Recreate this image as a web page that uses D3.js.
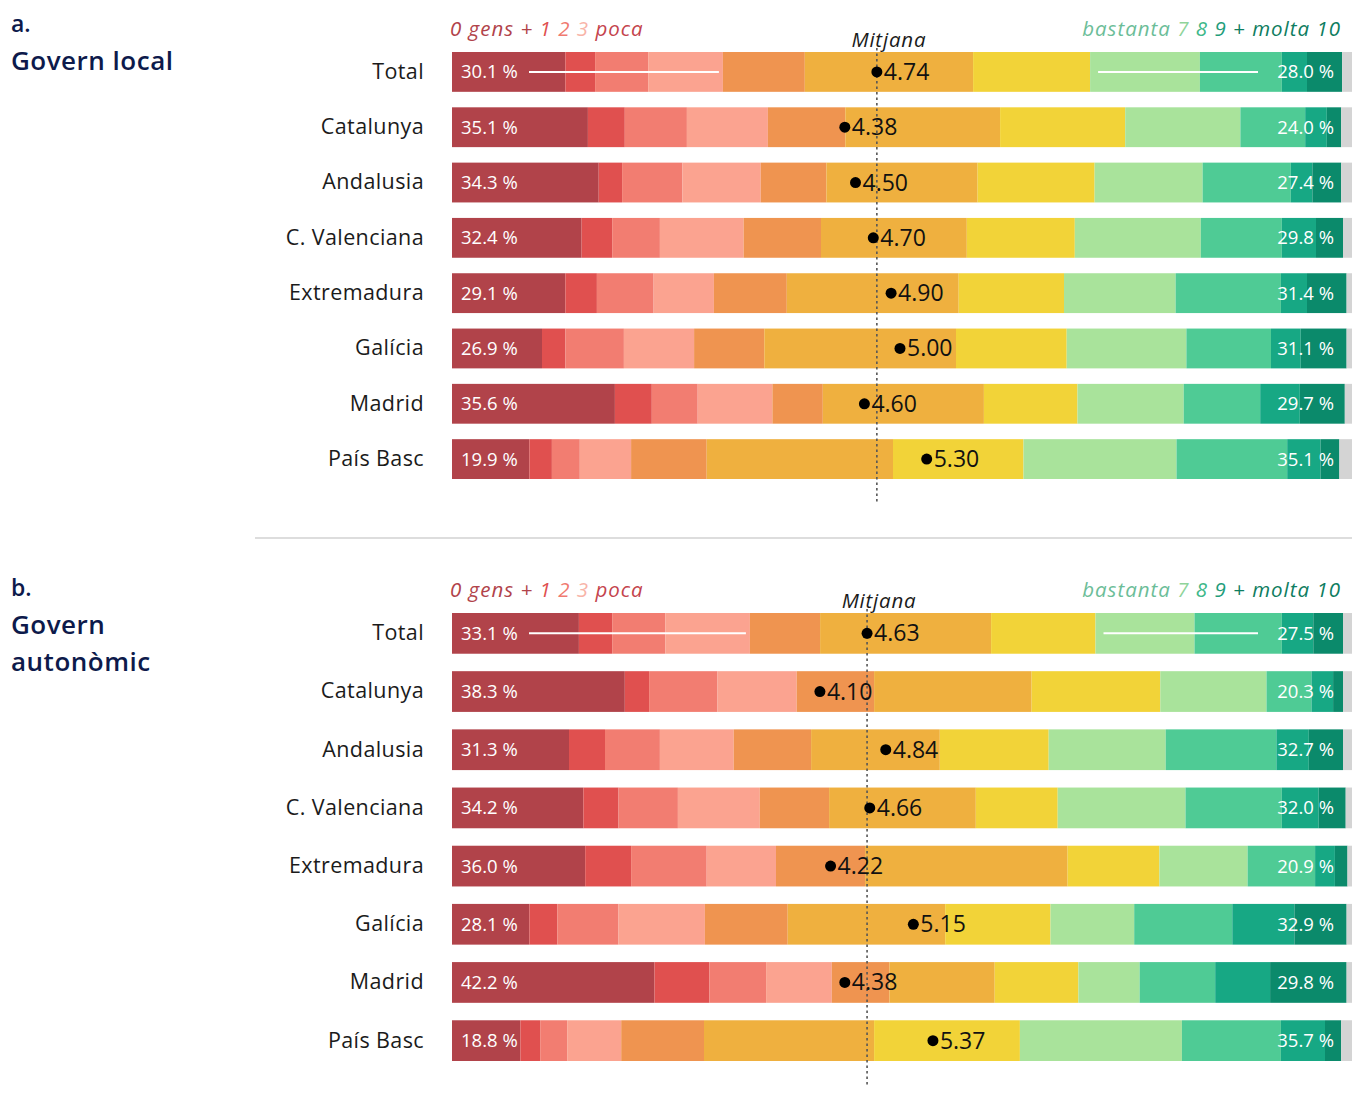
<!DOCTYPE html>
<html>
<head>
<meta charset="utf-8">
<script src="https://cdn.jsdelivr.net/npm/d3@7"></script>
<style>
  html, body { margin: 0; padding: 0; background: #fff; }
  svg { display: block; }
  text { font-family: "Open Sans", "Noto Sans", sans-serif; }
</style>
</head>
<body>
<svg id="chart" width="1352" height="1097"></svg>
<script>
const categories = ["Total", "Catalunya", "Andalusia", "C. Valenciana", "Extremadura", "Galícia", "Madrid", "País Basc"];
const scoreKeys = ["0", "1", "2", "3", "4", "5", "6", "7", "8", "9", "10", "NS/NC"];
const scoreColors = ["#b1434a", "#e0504f", "#f27d71", "#fba390", "#ef9450", "#efb03f", "#f2d338", "#a9e39b", "#4fcb95", "#17a884", "#0b8a6b", "#d4d4d4"];

// a. Govern local
const localValues = [
  [12.6, 3.3, 5.9, 8.3, 9.1, 18.7, 13.0, 12.2, 9.1, 2.8, 3.9, 1.1],
  [15.1, 4.1, 6.9, 9.0, 8.6, 17.2, 13.9, 12.8, 7.2, 2.4, 1.6, 1.2],
  [16.3, 2.6, 6.7, 8.7, 7.3, 16.8, 13.0, 12.0, 9.8, 2.4, 3.2, 1.2],
  [14.4, 3.4, 5.3, 9.3, 8.6, 16.2, 12.0, 14.0, 9.0, 3.8, 3.0, 1.0],
  [12.6, 3.5, 6.3, 6.7, 8.1, 19.1, 11.7, 12.4, 11.7, 2.9, 4.4, 0.6],
  [10.0, 2.6, 6.5, 7.8, 7.8, 21.3, 12.3, 13.3, 9.4, 3.3, 5.1, 0.6],
  [18.1, 4.1, 5.1, 8.3, 5.6, 17.9, 10.4, 11.8, 8.5, 4.4, 5.0, 0.8],
  [8.6, 2.5, 3.1, 5.7, 8.4, 20.7, 14.5, 17.0, 12.3, 3.7, 2.1, 1.4]
];
const localMeans = [4.74, 4.38, 4.50, 4.70, 4.90, 5.00, 4.60, 5.30];
const localLowLabels = ["30.1 %", "35.1 %", "34.3 %", "32.4 %", "29.1 %", "26.9 %", "35.6 %", "19.9 %"];
const localHighLabels = ["28.0 %", "24.0 %", "27.4 %", "29.8 %", "31.4 %", "31.1 %", "29.7 %", "35.1 %"];

// b. Govern autonòmic
const autoValues = [
  [14.1, 3.7, 5.9, 9.4, 7.8, 19.0, 11.6, 11.0, 9.7, 3.5, 3.3, 1.0],
  [19.2, 2.7, 7.6, 8.8, 8.6, 17.5, 14.3, 11.8, 5.0, 2.4, 1.1, 1.0],
  [13.0, 4.0, 6.1, 8.2, 8.6, 14.3, 12.1, 13.0, 12.3, 3.6, 3.8, 1.0],
  [14.6, 3.9, 6.6, 9.1, 7.7, 16.3, 9.1, 14.2, 10.7, 4.1, 3.0, 0.7],
  [14.8, 5.1, 8.4, 7.7, 9.9, 22.5, 10.2, 9.8, 7.5, 2.2, 1.4, 0.5],
  [8.6, 3.1, 6.8, 9.6, 9.2, 17.5, 11.7, 9.3, 10.9, 6.9, 5.8, 0.6],
  [22.5, 6.1, 6.3, 7.3, 6.4, 11.7, 9.3, 6.8, 8.4, 6.1, 8.5, 0.6],
  [7.6, 2.2, 3.0, 6.0, 9.2, 18.9, 16.2, 18.0, 11.0, 4.9, 1.8, 1.2]
];
const autoMeans = [4.63, 4.10, 4.84, 4.66, 4.22, 5.15, 4.38, 5.37];
const autoLowLabels = ["33.1 %", "38.3 %", "31.3 %", "34.2 %", "36.0 %", "28.1 %", "42.2 %", "18.8 %"];
const autoHighLabels = ["27.5 %", "20.3 %", "32.7 %", "32.0 %", "20.9 %", "32.9 %", "29.8 %", "35.7 %"];

const panelLetters = ["a.", "b."];
const panelTitles = [["Govern local"], ["Govern", "autonòmic"]];
const lowHeader = [["0 gens + ", "#b1434a"], ["1 ", "#e0504f"], ["2 ", "#f07a70"], ["3 ", "#f8b4a8"], ["poca", "#c4434c"]];
const highHeader = [["bastanta ", "#6cbd98"], ["7 ", "#8fd49a"], ["8 ", "#3fb889"], ["9 ", "#1f9d7b"], ["+ molta 10", "#0e7d60"]];
const meanLabel = "Mitjana";

const svg = d3.select("#chart");
const x = d3.scaleLinear().domain([0, 100]).range([452, 1352]);
const xMean = d3.scaleLinear().domain([0, 10]).range([455, 1345]);
const navy = "#0d1a4b";

function drawPanel(cfg) {
  const g = svg.append("g");
  const y = d3.scaleBand().domain(categories).range(cfg.yRange).paddingInner(cfg.pad).paddingOuter(0);
  const bw = y.bandwidth();

  // panel titles
  g.append("text").attr("x", 11).attr("y", cfg.titleY).attr("fill", navy)
    .attr("font-size", 23).attr("font-weight", 600)
    .text(cfg.letter);
  cfg.title.forEach((t, i) => {
    g.append("text").attr("x", 11).attr("y", cfg.titleY + 38 + i * 37).attr("fill", navy)
      .attr("font-size", 26).attr("font-weight", 600).attr("letter-spacing", 0.5)
      .text(t);
  });

  // headers
  const lh = g.append("text").attr("x", x(0) - 2).attr("y", cfg.yRange[0] - 16)
    .attr("font-size", 20.5).attr("font-style", "italic").attr("letter-spacing", 1);
  lowHeader.forEach(([t, c]) => lh.append("tspan").attr("fill", c).text(t));
  const hh = g.append("text").attr("x", 1341).attr("y", cfg.yRange[0] - 16)
    .attr("font-size", 20.5).attr("font-style", "italic").attr("text-anchor", "end").attr("letter-spacing", 1);
  highHeader.forEach(([t, c]) => hh.append("tspan").attr("fill", c).text(t));

  // category labels
  const yAxis = d3.axisLeft(y).tickSize(0).tickPadding(0);
  const ax = g.append("g").attr("transform", `translate(424,0)`).call(yAxis);
  ax.select(".domain").remove();
  ax.selectAll("text").attr("font-size", 21.5).attr("fill", "#1b1b1b")
    .attr("font-family", "'Open Sans', sans-serif").attr("font-weight", 500).attr("letter-spacing", 0.4);

  // stacked bars
  const rows = cfg.values.map((vals, i) => {
    const o = { cat: categories[i] };
    scoreKeys.forEach((k, j) => o[k] = vals[j]);
    return o;
  });
  const stack = d3.stack().keys(scoreKeys)(rows);
  g.append("g").selectAll("g").data(stack).join("g")
    .attr("fill", (d, i) => scoreColors[i])
    .selectAll("rect").data(d => d).join("rect")
    .attr("x", d => x(d[0]))
    .attr("y", d => y(d.data.cat))
    .attr("width", d => Math.max(0, x(d[1]) - x(d[0])))
    .attr("height", bw);

  // low / high percentage labels
  g.append("g").selectAll("text").data(cfg.low).join("text")
    .attr("x", x(0) + 9).attr("y", (d, i) => y(categories[i]) + bw / 2 + 6.5)
    .attr("fill", "#fff").attr("font-size", 18.5).text(d => d);
  g.append("g").selectAll("text").data(cfg.high).join("text")
    .attr("x", 1334).attr("y", (d, i) => y(categories[i]) + bw / 2 + 6.5)
    .attr("text-anchor", "end").attr("fill", "#fff").attr("font-size", 18.5).text(d => d);

  // white range lines on the Total row
  const tv = cfg.values[0];
  const lowEnd = d3.sum(tv.slice(0, 4));
  const highStart = d3.sum(tv.slice(0, 7));
  const ty = y(categories[0]) + bw / 2;
  g.append("line").attr("x1", x(0) + 77).attr("x2", x(lowEnd) - 4).attr("y1", ty).attr("y2", ty)
    .attr("stroke", "#fff").attr("stroke-width", 2);
  g.append("line").attr("x1", x(highStart) + 8).attr("x2", 1258).attr("y1", ty).attr("y2", ty)
    .attr("stroke", "#fff").attr("stroke-width", 2);

  // mean dotted line
  const mx = xMean(cfg.means[0]);
  g.append("line").attr("x1", mx).attr("x2", mx)
    .attr("y1", cfg.yRange[0] - 4).attr("y2", cfg.yRange[1] + 24)
    .attr("stroke", "#555").attr("stroke-width", 1.6).attr("stroke-dasharray", "2.5,3");
  g.append("text").attr("x", mx + 12).attr("y", cfg.yRange[0] - 5)
    .attr("text-anchor", "middle").attr("font-size", 20.5).attr("font-style", "italic")
    .attr("letter-spacing", 0.8).attr("fill", "#1b1b1b").text(meanLabel);

  // mean dots & values
  const mg = g.append("g").selectAll("g").data(cfg.means).join("g")
    .attr("transform", (d, i) => `translate(${xMean(d)},${y(categories[i]) + bw / 2})`);
  mg.append("circle").attr("r", 5.5).attr("fill", "#000");
  mg.append("text").attr("x", 7).attr("y", 8).attr("font-size", 23).attr("fill", "#111")
    .text(d => d.toFixed(2));
}

drawPanel({ letter: panelLetters[0], title: panelTitles[0], titleY: 32, yRange: [52, 479], pad: 0.28,
  values: localValues, means: localMeans, low: localLowLabels, high: localHighLabels });

svg.append("line").attr("x1", 255).attr("x2", 1352).attr("y1", 538).attr("y2", 538)
  .attr("stroke", "#d2d2d2").attr("stroke-width", 1.5);

drawPanel({ letter: panelLetters[1], title: panelTitles[1], titleY: 596, yRange: [613, 1061], pad: 0.30,
  values: autoValues, means: autoMeans, low: autoLowLabels, high: autoHighLabels });
</script>
</body>
</html>
